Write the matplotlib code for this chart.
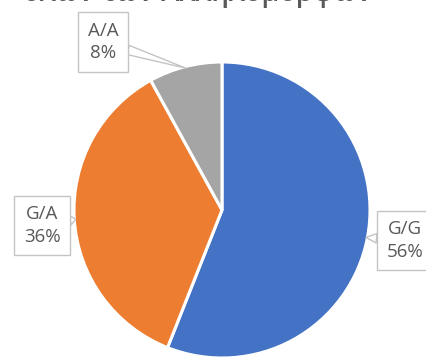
import numpy as np
import matplotlib
matplotlib.use("Agg")
import matplotlib.pyplot as plt

# Genotype shares (%)
genotypes = ["G/G", "G/A", "A/A"]
shares = [56, 36, 8]
colors = ["#4472C4", "#ED7D31", "#A5A5A5"]
title = "όλων των Αλληλόμορφων"

W, H = 426, 358
fig = plt.figure(figsize=(W / 100, H / 100), dpi=100)
fig.patch.set_facecolor("white")

# pie centre and radius in pixels
cx, cy, R = 222, 210, 148
ax = fig.add_axes([(cx - R) / W, (H - cy - R) / H, 2 * R / W, 2 * R / H])

wedges, _ = ax.pie(shares, colors=colors, startangle=90, counterclock=False,
                   radius=1, wedgeprops=dict(edgecolor="white", linewidth=2.2))
ax.set_xlim(-1, 1)
ax.set_ylim(-1, 1)
ax.set_aspect("equal")
ax.axis("off")

# label boxes (data coordinates, pie radius = 1)
box_pos = {"G/G": (1.235, -0.205), "G/A": (-1.215, -0.105), "A/A": (-0.805, 1.135)}
txt_color = "#595959"
for w, name, val in zip(wedges, genotypes, shares):
    mid = np.deg2rad((w.theta1 + w.theta2) / 2)
    tip = (np.cos(mid) * 0.99, np.sin(mid) * 0.99)
    ax.annotate(f"{name}\n{val}%", xy=tip, xytext=box_pos[name],
                ha="center", va="center", fontsize=13.5, family="Open Sans",
                color=txt_color, linespacing=1.35, annotation_clip=False,
                bbox=dict(boxstyle="square,pad=0.5", fc="white", ec="#C4C4C4", lw=1.0),
                arrowprops=dict(arrowstyle="wedge,tail_width=0.5,shrink_factor=0.5",
                                fc="white", ec="#C4C4C4", lw=1.0,
                                shrinkA=0, shrinkB=0),
                zorder=5)

fig.text(198 / W, 1 - 1 / H, title, ha="center", va="baseline",
         fontsize=20, family="Open Sans", color=txt_color, fontweight="semibold")

fig.savefig("out.png", dpi=100, facecolor="white")
